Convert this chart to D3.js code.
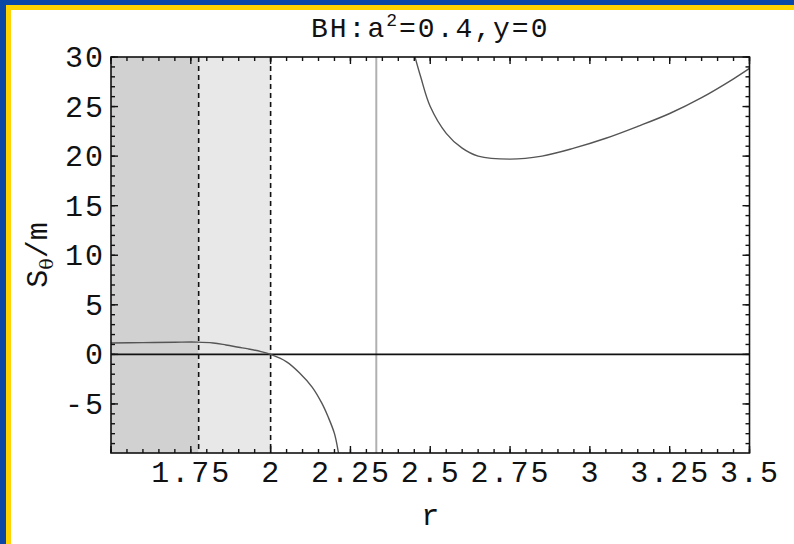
<!DOCTYPE html>
<html>
<head>
<meta charset="utf-8">
<script src="https://cdn.jsdelivr.net/npm/d3@7"></script>
<style>
  body { margin: 0; background: #fff; }
  text { font-family: "Liberation Mono", "Courier New", monospace; fill: #111; }
</style>
</head>
<body>
<svg id="chart" width="794" height="544"></svg>
<script>
// values
const xMajor = [1.5, 1.75, 2, 2.25, 2.5, 2.75, 3, 3.25, 3.5]
const xLabels = ['', '1.75', '2', '2.25', '2.5', '2.75', '3', '3.25', '3.5']
const yMajor = [-5, 0, 5, 10, 15, 20, 25, 30]
const yLabels = ['-5', '0', '5', '10', '15', '20', '25', '30']

// shaded regions: inside horizon, horizon..ergosphere
const regionStart = [1.5, 1.7746]
const regionEnd = [1.7746, 2]
const regionFill = ['#d1d1d1', '#e8e8e8']
const dashedAt = [1.7746, 2]
const poleAt = 2.331

// left branch of S_theta/m
const leftR = [1.5, 1.6, 1.7, 1.77, 1.82, 1.86, 1.9, 1.93, 1.97, 2.0, 2.05, 2.09, 2.13, 2.16, 2.18, 2.2, 2.213, 2.22]
const leftS = [1.14, 1.19, 1.23, 1.24, 1.15, 0.95, 0.72, 0.55, 0.28, 0, -0.75, -1.85, -3.3, -4.9, -6.3, -8.0, -10.0, -11.2]

// right branch of S_theta/m
const rightR = [2.448, 2.47, 2.5, 2.55, 2.6, 2.65, 2.75, 2.85, 2.95, 3.05, 3.15, 3.25, 3.35, 3.45, 3.5]
const rightS = [30.5, 28, 25, 22.3, 20.8, 20.0, 19.7, 20.0, 20.8, 21.8, 23.0, 24.3, 25.9, 27.8, 28.85]

const svg = d3.select('#chart')
const pLeft = 111, pRight = 749.5, pTop = 57, pBottom = 453

const x = d3.scaleLinear().domain([1.5, 3.5]).range([pLeft, pRight])
const y = d3.scaleLinear().domain([-9.95, 30]).range([pBottom, pTop])

// page frame (blue + yellow edges)
svg.append('rect').attr('x', 0).attr('y', 0).attr('width', 794).attr('height', 544).attr('fill', '#fff')
svg.append('rect').attr('x', 0).attr('y', 0).attr('width', 794).attr('height', 5).attr('fill', '#0a47a6')
svg.append('rect').attr('x', 0).attr('y', 0).attr('width', 6).attr('height', 544).attr('fill', '#0a47a6')
svg.append('rect').attr('x', 6).attr('y', 5).attr('width', 788).attr('height', 5).attr('fill', '#ffd400')
svg.append('rect').attr('x', 6).attr('y', 5).attr('width', 5).attr('height', 539).attr('fill', '#ffd400')

svg.append('defs').append('clipPath').attr('id', 'plotClip')
    .append('rect').attr('x', pLeft).attr('y', pTop).attr('width', pRight - pLeft).attr('height', pBottom - pTop)

const plot = svg.append('g').attr('clip-path', 'url(#plotClip)')

plot.selectAll('rect.region')
    .data(regionStart)
    .enter()
    .append('rect')
    .attr('class', 'region')
    .attr('x', d => x(d))
    .attr('y', pTop)
    .attr('width', (d, i) => x(regionEnd[i]) - x(d))
    .attr('height', pBottom - pTop)
    .attr('fill', (d, i) => regionFill[i])

// pole
plot.append('line')
    .attr('x1', x(poleAt)).attr('x2', x(poleAt))
    .attr('y1', pTop).attr('y2', pBottom)
    .attr('stroke', '#b0b0b0').attr('stroke-width', 2)

plot.selectAll('line.dash')
    .data(dashedAt)
    .enter()
    .append('line')
    .attr('class', 'dash')
    .attr('x1', d => x(d)).attr('x2', d => x(d))
    .attr('y1', pTop).attr('y2', pBottom)
    .attr('stroke', '#111').attr('stroke-width', 1.6)
    .attr('stroke-dasharray', '5,4')

// zero line
plot.append('line')
    .attr('x1', pLeft).attr('x2', pRight)
    .attr('y1', y(0)).attr('y2', y(0))
    .attr('stroke', '#111').attr('stroke-width', 1.6)

const line = d3.line()
    .x(d => x(d[0]))
    .y(d => y(d[1]))
    .curve(d3.curveCatmullRom)

plot.append('path')
    .attr('d', line(d3.zip(leftR, leftS)))
    .attr('fill', 'none').attr('stroke', '#555').attr('stroke-width', 1.4)
plot.append('path')
    .attr('d', line(d3.zip(rightR, rightS)))
    .attr('fill', 'none').attr('stroke', '#555').attr('stroke-width', 1.4)

// inward ticks on all four sides
const xMinor = d3.range(1.5, 3.5001, 0.05)
const yMinor = d3.range(-9, 30.5, 1)

function xTicks(values, len) {
    const g = svg.append('g').attr('stroke', '#111').attr('stroke-width', 1.4)
    g.selectAll('line.b').data(values).enter().append('line').attr('class', 'b')
        .attr('x1', d => x(d)).attr('x2', d => x(d))
        .attr('y1', pBottom).attr('y2', pBottom - len)
    g.selectAll('line.t').data(values).enter().append('line').attr('class', 't')
        .attr('x1', d => x(d)).attr('x2', d => x(d))
        .attr('y1', pTop).attr('y2', pTop + len)
}
function yTicks(values, len) {
    const g = svg.append('g').attr('stroke', '#111').attr('stroke-width', 1.4)
    g.selectAll('line.l').data(values).enter().append('line').attr('class', 'l')
        .attr('y1', d => y(d)).attr('y2', d => y(d))
        .attr('x1', pLeft).attr('x2', pLeft + len)
    g.selectAll('line.r').data(values).enter().append('line').attr('class', 'r')
        .attr('y1', d => y(d)).attr('y2', d => y(d))
        .attr('x1', pRight).attr('x2', pRight - len)
}
xTicks(xMinor, 4)
xTicks(xMajor, 7)
yTicks(yMinor, 4)
yTicks(yMajor, 7)

// tick labels through d3 axes
const xAxis = svg.append('g').attr('transform', `translate(0,${pBottom})`)
    .call(d3.axisBottom(x).tickValues(xMajor).tickSize(0).tickPadding(29)
        .tickFormat((d, i) => xLabels[i]))
const yAxis = svg.append('g').attr('transform', `translate(${pLeft},0)`)
    .call(d3.axisLeft(y).tickValues(yMajor).tickSize(0).tickPadding(6)
        .tickFormat((d, i) => yLabels[i]))
xAxis.select('.domain').remove()
yAxis.select('.domain').remove()

xAxis.selectAll('text').attr('font-size', 30).attr('dy', null).attr('letter-spacing', 2)
    .attr('font-family', '"Liberation Mono", monospace')
yAxis.selectAll('text').attr('font-size', 30).attr('letter-spacing', 2)
    .attr('font-family', '"Liberation Mono", monospace')

// frame
svg.append('rect')
    .attr('x', pLeft).attr('y', pTop)
    .attr('width', pRight - pLeft).attr('height', pBottom - pTop)
    .attr('fill', 'none').attr('stroke', '#111').attr('stroke-width', 1.6)

// title
const title = svg.append('text')
    .attr('x', (pLeft + pRight) / 2).attr('y', 37)
    .attr('text-anchor', 'middle').attr('font-size', 28).attr('letter-spacing', 2)
title.append('tspan').text('BH:a')
title.append('tspan').attr('font-size', 18).attr('dy', -11).text('2')
title.append('tspan').attr('dy', 11).text('=0.4,y=0')

// axis labels
svg.append('text')
    .attr('x', (pLeft + pRight) / 2).attr('y', 525)
    .attr('text-anchor', 'middle').attr('font-size', 30)
    .text('r')

const yLabel = svg.append('text')
    .attr('transform', `translate(47,${(pTop + pBottom) / 2}) rotate(-90)`)
    .attr('text-anchor', 'middle').attr('font-size', 30)
yLabel.append('tspan').text('S')
yLabel.append('tspan').attr('font-size', 19).attr('dy', 6)
    .attr('font-family', '"DejaVu Serif", serif').text('θ')
yLabel.append('tspan').attr('dy', -6).text('/m')
</script>
</body>
</html>
